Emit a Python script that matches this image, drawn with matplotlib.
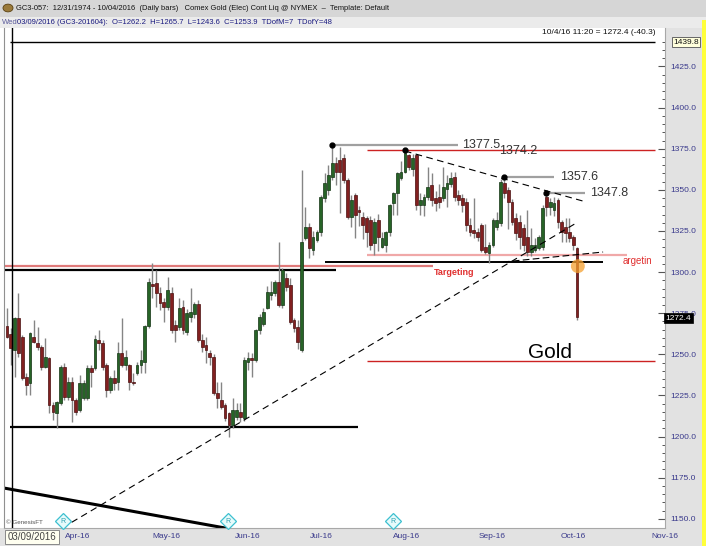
import matplotlib
matplotlib.use('Agg')
import matplotlib.pyplot as plt
import numpy as np
from matplotlib.patches import Rectangle, Circle

plt.rcParams['font.family'] = ['Liberation Sans', 'DejaVu Sans']

# ---------------- data ----------------
opens = [1267.2, 1262.2, 1252.6, 1272.1, 1260.5, 1236.2, 1232.5, 1260.5, 1256.9, 1254.4,
         1242.3, 1247.7, 1219.2, 1214.3, 1220.4, 1242.3, 1224.0, 1233.1, 1222.2, 1216.1,
         1223.4, 1223.4, 1241.7, 1241.7, 1258.7, 1256.9, 1243.5, 1228.3, 1235.6, 1233.1,
         1250.8, 1243.5, 1243.5, 1233.1, 1238.6, 1243.5, 1245.3, 1267.2, 1292.7, 1293.3,
         1287.3, 1281.8, 1278.7, 1287.3, 1267.8, 1266.6, 1278.7, 1263.5, 1272.7, 1274.5,
         1280.6, 1258.7, 1255.6, 1250.8, 1248.3, 1226.5, 1222.2, 1219.2, 1214.3, 1207.0,
         1211.9, 1214.9, 1211.3, 1245.3, 1247.7, 1246.5, 1264.8, 1268.4, 1278.1, 1286.1,
         1287.3, 1293.9, 1280.0, 1296.4, 1292.1, 1270.8, 1266.6, 1252.6, 1320.7, 1327.4,
         1313.4, 1319.5, 1324.3, 1345.0, 1349.9, 1357.8, 1366.3, 1368.1, 1369.3, 1356.0,
         1333.5, 1346.8, 1337.7, 1333.5, 1332.9, 1331.6, 1317.6, 1331.6, 1315.2, 1316.4,
         1324.3, 1342.0, 1348.0, 1357.2, 1360.8, 1371.2, 1362.6, 1371.2, 1340.8, 1340.8,
         1345.6, 1353.0, 1345.0, 1345.6, 1345.0, 1350.5, 1353.5, 1357.8, 1346.8, 1345.0,
         1342.6, 1328.6, 1325.6, 1324.3, 1328.6, 1315.2, 1311.6, 1316.4, 1327.4, 1329.8,
         1354.1, 1349.9, 1342.6, 1332.9, 1330.4, 1326.8, 1321.3, 1312.2, 1313.4, 1314.6,
         1315.2, 1345.6, 1339.5, 1338.0, 1343.8, 1330.4, 1327.4, 1324.3, 1321.3, 1314.6]
highs = [1278.1, 1265.7, 1272.7, 1287.3, 1261.5, 1238.6, 1263.5, 1270.8, 1266.6, 1255.6,
         1259.9, 1248.3, 1221.0, 1221.6, 1243.5, 1244.7, 1236.2, 1236.2, 1223.4, 1237.4,
         1234.4, 1243.5, 1243.5, 1261.7, 1264.8, 1258.7, 1244.7, 1236.8, 1240.4, 1257.5,
         1272.1, 1252.6, 1244.1, 1238.6, 1245.4, 1252.6, 1267.8, 1296.4, 1305.5, 1301.2,
         1290.9, 1284.2, 1297.0, 1290.9, 1270.8, 1284.2, 1283.0, 1277.5, 1290.3, 1281.8,
         1283.0, 1262.3, 1260.5, 1252.6, 1250.2, 1233.1, 1233.1, 1220.4, 1214.9, 1223.4,
         1220.4, 1220.4, 1248.3, 1251.4, 1250.8, 1265.4, 1274.5, 1278.1, 1291.5, 1294.6,
         1295.2, 1318.2, 1302.4, 1299.4, 1296.4, 1272.1, 1270.8, 1362.0, 1339.6, 1329.8,
         1325.0, 1325.6, 1347.0, 1360.2, 1365.0, 1377.5, 1370.2, 1376.0, 1372.0, 1357.0,
         1346.8, 1348.0, 1340.0, 1336.5, 1334.0, 1334.0, 1332.9, 1335.3, 1324.3, 1325.0,
         1341.5, 1348.6, 1360.8, 1367.5, 1374.2, 1372.0, 1372.0, 1372.0, 1348.0, 1347.5,
         1363.9, 1360.0, 1349.0, 1353.5, 1363.9, 1359.0, 1360.8, 1360.8, 1350.0, 1347.5,
         1345.0, 1333.0, 1345.0, 1327.0, 1330.0, 1329.0, 1318.2, 1333.0, 1336.5, 1356.6,
         1357.6, 1351.5, 1344.5, 1336.0, 1335.0, 1329.0, 1337.7, 1327.0, 1320.7, 1322.5,
         1341.0, 1347.8, 1345.0, 1345.5, 1345.0, 1331.6, 1333.0, 1333.0, 1322.5, 1315.2]
lows = [1259.9, 1243.6, 1236.2, 1248.3, 1234.4, 1225.2, 1225.2, 1256.9, 1252.6, 1240.4,
        1241.7, 1214.3, 1210.0, 1205.2, 1219.2, 1222.2, 1222.2, 1208.8, 1213.1, 1214.9,
        1222.2, 1222.2, 1230.1, 1240.4, 1252.6, 1240.4, 1224.0, 1226.5, 1228.3, 1228.3,
        1242.3, 1240.4, 1228.3, 1231.3, 1237.4, 1238.6, 1238.6, 1266.0, 1284.2, 1278.7,
        1276.9, 1269.6, 1276.9, 1262.9, 1257.5, 1264.8, 1262.3, 1261.7, 1269.6, 1272.1,
        1257.5, 1251.4, 1244.7, 1243.5, 1225.3, 1217.3, 1216.7, 1209.3, 1199.7, 1205.2,
        1210.0, 1208.8, 1209.3, 1240.4, 1236.2, 1245.3, 1262.3, 1267.2, 1277.5, 1283.0,
        1285.4, 1278.7, 1278.1, 1288.5, 1268.4, 1263.5, 1253.2, 1251.4, 1319.5, 1308.5,
        1310.4, 1318.2, 1321.9, 1342.7, 1347.0, 1356.0, 1353.1, 1335.9, 1354.0, 1332.3,
        1327.4, 1320.7, 1328.0, 1320.0, 1315.0, 1313.4, 1310.4, 1312.8, 1314.6, 1312.2,
        1321.9, 1334.7, 1334.7, 1356.0, 1360.2, 1362.0, 1358.4, 1338.0, 1334.5, 1334.0,
        1343.8, 1340.0, 1337.0, 1339.0, 1343.0, 1339.5, 1352.0, 1343.5, 1340.5, 1336.5,
        1325.0, 1322.0, 1320.7, 1319.0, 1312.2, 1311.0, 1305.5, 1315.0, 1325.6, 1328.0,
        1345.0, 1326.0, 1328.6, 1319.5, 1314.0, 1313.0, 1310.0, 1310.0, 1312.0, 1313.4,
        1313.5, 1334.0, 1335.0, 1334.0, 1327.0, 1318.5, 1318.0, 1318.2, 1313.4, 1270.8]
closes = [1260.5, 1253.9, 1272.1, 1250.8, 1235.6, 1231.3, 1262.9, 1257.5, 1254.4, 1242.3,
          1248.3, 1219.2, 1214.9, 1221.0, 1242.3, 1224.0, 1233.1, 1222.2, 1215.0, 1232.5,
          1232.5, 1241.7, 1239.2, 1259.3, 1256.9, 1242.3, 1228.3, 1235.6, 1232.5, 1250.8,
          1243.5, 1248.3, 1233.1, 1232.5, 1243.5, 1246.5, 1267.2, 1293.9, 1291.5, 1287.3,
          1281.2, 1278.7, 1289.1, 1264.8, 1264.8, 1278.1, 1264.8, 1275.1, 1275.7, 1280.6,
          1258.7, 1254.4, 1252.6, 1248.3, 1226.5, 1223.4, 1218.0, 1211.3, 1207.0, 1216.1,
          1216.1, 1211.9, 1246.5, 1247.7, 1246.5, 1264.8, 1272.7, 1275.7, 1287.9, 1287.9,
          1293.9, 1280.0, 1301.2, 1290.9, 1269.6, 1266.0, 1257.5, 1318.2, 1327.4, 1314.6,
          1321.3, 1324.3, 1345.6, 1354.1, 1359.0, 1366.3, 1360.8, 1360.8, 1356.0, 1333.5,
          1343.8, 1334.7, 1336.5, 1328.6, 1324.3, 1316.4, 1330.4, 1321.3, 1320.7, 1324.3,
          1340.8, 1348.0, 1360.2, 1360.8, 1372.4, 1363.9, 1369.3, 1340.8, 1343.8, 1345.6,
          1351.7, 1343.8, 1342.0, 1342.6, 1351.7, 1354.1, 1357.2, 1345.6, 1343.8, 1340.8,
          1328.6, 1324.3, 1323.7, 1321.3, 1313.4, 1312.2, 1316.4, 1331.6, 1331.6, 1354.7,
          1348.0, 1342.6, 1330.4, 1323.7, 1321.3, 1316.4, 1312.2, 1316.4, 1316.4, 1321.3,
          1338.9, 1339.5, 1342.6, 1342.0, 1330.4, 1324.3, 1323.7, 1320.7, 1316.4, 1272.4]

month_labels = ['Apr-16', 'May-16', 'Jun-16', 'Jul-16', 'Aug-16', 'Sep-16', 'Oct-16', 'Nov-16']
month_pos = [18.6, 41.6, 63.0, 82.1, 104.5, 126.8, 147.9, 172.0]   # bar index of month label

price_ticks = [1150, 1175, 1200, 1225, 1250, 1275, 1300, 1325, 1350, 1375, 1400, 1425]

peak_idx = [85, 104, 130, 141]
peak_val = [1377.5, 1374.2, 1357.6, 1347.8]

top_level = 1439.8
last_price = 1272.4
resistance_left = 1301.5      # black line (left)
red_left = 1304.0             # red line (left)
support_low = 1205.8          # black support line (bottom)
support_right = 1306.1        # black line (right)
pink_level = 1310.1           # pink "Targeting" line
red_top = 1374.2              # red line
red_bottom = 1245.9           # red "Gold" target line

header1 = "GC3-057:  12/31/1974 - 10/04/2016  (Daily bars)   Comex Gold (Elec) Cont Liq @ NYMEX  \u2013  Template: Default"
header2_day = "Wed"
header2 = "03/09/2016 (GC3-201604):  O=1262.2  H=1265.7  L=1243.6  C=1253.9  TDofM=7  TDofY=48"
last_info = "10/4/16 11:20 = 1272.4 (-40.3)"
cursor_date = "03/09/2016"

# ---------------- figure ----------------
W, H = 706, 546
fig = plt.figure(figsize=(W / 100, H / 100), dpi=100)
fig.patch.set_facecolor('white')


def frect(x0, y0, x1, y1, color, z=0):
    fig.add_artist(Rectangle((x0 / W, 1 - y1 / H), (x1 - x0) / W, (y1 - y0) / H,
                             transform=fig.transFigure, facecolor=color,
                             edgecolor='none', zorder=z))


def ftext(px, py, s, **kw):
    kw.setdefault('va', 'center')
    return fig.text(px / W, 1 - py / H, s, **kw)


# panels
frect(0, 0, 706, 17, '#d6d6d6')
frect(0, 17, 706, 28, '#ebebeb')
frect(665, 28, 702, 546, '#e2e2e2')
frect(0, 528, 702, 546, '#e2e2e2')
frect(702, 20, 706, 546, '#ffff3a')

ax = fig.add_axes([4 / W, 1 - 528 / H, (665 - 4) / W, 500 / H])
ax.set_facecolor('white')
ax.set_xlim(-0.784, 171.98)
ax.set_ylim(1144.4, 1448.4)

ax.spines['top'].set_visible(False)
ax.spines['left'].set_color('#909090')
ax.spines['right'].set_color('#a8a8a8')
ax.spines['bottom'].set_color('#a8a8a8')

ax.yaxis.tick_right()
ax.set_yticks(price_ticks)
ax.set_yticklabels([f'{v:.1f}' for v in price_ticks])
ax.set_yticks(np.arange(1150, 1445, 5), minor=True)
ax.tick_params(axis='y', which='major', direction='in', length=5, width=0.8,
               color='#555555', labelsize=6, labelcolor='#3a3a8c', pad=4)
ax.tick_params(axis='y', which='minor', direction='in', length=2.5, width=0.7,
               color='#555555')
ax.set_xticks([])

# candles
idx = np.arange(len(closes))
o = np.array(opens); c = np.array(closes); h = np.array(highs); l = np.array(lows)
up = c >= o
ax.vlines(idx, l, h, color='#858585', lw=1.0, zorder=3)
bot = np.minimum(o, c)
hgt = np.maximum(np.abs(c - o), 0.8)
ax.bar(idx[up], hgt[up], bottom=bot[up], width=0.72, color='#276427',
       edgecolor='#143414', lw=0.5, zorder=4)
ax.bar(idx[~up], hgt[~up], bottom=bot[~up], width=0.72, color='#822020',
       edgecolor='#4a1010', lw=0.5, zorder=4)

# horizontal lines
ax.hlines(top_level, 0.78, 169.4, color='black', lw=1.0, zorder=2)
ax.hlines(red_left, -0.8, 111.3, color='#e07a7a', lw=1.6, zorder=2)
ax.hlines(resistance_left, -0.8, 86.0, color='black', lw=1.6, zorder=2)
ax.hlines(support_low, 0.8, 91.7, color='black', lw=1.6, zorder=2)
ax.hlines(support_right, 83.1, 155.8, color='black', lw=1.4, zorder=2)
ax.hlines(pink_level, 94.1, 162.0, color='#f0a8a8', lw=1.6, zorder=2)
ax.hlines(red_top, 94.1, 169.4, color='#cc2222', lw=1.0, zorder=2)
ax.hlines(red_bottom, 94.1, 169.4, color='#cc2222', lw=1.0, zorder=2)

# trend lines
ax.plot([-0.8, 57.0], [1168.7, 1144.4], color='black', lw=2.2, zorder=2, clip_on=True)
ax.plot([14.4, 149.2], [1144.4, 1330.4], color='black', lw=0.8,
        ls=(0, (6, 4)), zorder=5)
ax.plot([104.0, 150.5], [1373.6, 1343.2], color='black', lw=0.8,
        ls=(0, (6, 4)), zorder=5)
ax.plot([129.6, 155.8], [1306.1, 1312.2], color='black', lw=0.8,
        ls=(0, (6, 3)), zorder=5)

# peaks
line_end = [117.9, None, 143.0, 151.1]
text_x = [118.9, 128.7, 144.5, 152.4]
text_y = [1377.5, 1373.4, 1357.6, 1347.8]
for pi, pv, le, tx, ty in zip(peak_idx, peak_val, line_end, text_x, text_y):
    if le is not None:
        ax.hlines(pv, pi, le, color='#a0a0a0', lw=1.6, zorder=2)
    ax.plot(pi, pv, 'o', color='black', ms=3.5, zorder=6)
    ax.text(tx, ty, f'{pv:.1f}', fontsize=9, color='#333333', va='center', ha='left', zorder=6)

ax.text(111.6, 1300.0, 'Targeting', color='#e03030', fontsize=6.5, fontweight='bold',
        va='center', ha='left', zorder=6)
ax.text(161.0, 1306.7, 'argetin', color='#e03030', fontsize=7,
        va='center', ha='left', zorder=6)
ax.text(136.2, 1251.4, 'Gold', color='black', fontsize=15, va='center', ha='left', zorder=6)

ax.scatter([149.2], [1303.6], s=100, color='#f5a030', alpha=0.75, edgecolors='none', zorder=7)

# rollover markers
for rx in [14.6, 57.8, 100.9]:
    ax.plot(rx, 1148.6, marker='D', ms=8, mfc='#e6fbfb', mec='#3cc0d0', mew=0.9, zorder=6,
            clip_on=False)
    ax.text(rx, 1148.6, 'R', fontsize=5, color='#2a9fb0', ha='center', va='center', zorder=7)

# cursor line
ax.axvline(1.2, color='black', lw=1.0, zorder=5)

# date labels
for lab, pos in zip(month_labels, month_pos):
    ax.text(pos, -0.018, lab, transform=ax.get_xaxis_transform(), fontsize=6,
            color='#3a3a8c', ha='center', va='center', clip_on=False)

# header
fig.add_artist(Circle((8 / W, 1 - 8 / H), 5 / W, transform=fig.transFigure,
                      facecolor='#9a7a3a', edgecolor='#5a4010', lw=0.6, zorder=3))
ftext(16, 8.5, header1, fontsize=5.4, color='#111111')
ftext(2, 22.5, header2_day, fontsize=5.5, color='#5a5a9a')
ftext(17, 22.5, header2, fontsize=5.5, color='#1a1a80')
ftext(655, 33, last_info, fontsize=6, color='#111111', ha='right')

# price boxes
ftext(686, 42, f'{top_level:.1f}', fontsize=6, color='#111111', ha='center',
      bbox=dict(boxstyle='square,pad=0.2', facecolor='#ffffdc', edgecolor='#666666', lw=0.7),
      zorder=5)
ftext(678.5, 318, f'{last_price:.1f}', fontsize=6, color='white', ha='center',
      bbox=dict(boxstyle='square,pad=0.15', facecolor='black', edgecolor='black', lw=0.5),
      zorder=5)

# cursor date box & copyright
ftext(32, 537, cursor_date, fontsize=7, color='#444444', ha='center',
      bbox=dict(boxstyle='square,pad=0.25', facecolor='#fffff0', edgecolor='#888888', lw=0.7),
      zorder=5)
ftext(6, 522, '\u00a9 GenesisFT', fontsize=4.5, color='#555555', ha='left')

fig.savefig('out.png', dpi=100)
